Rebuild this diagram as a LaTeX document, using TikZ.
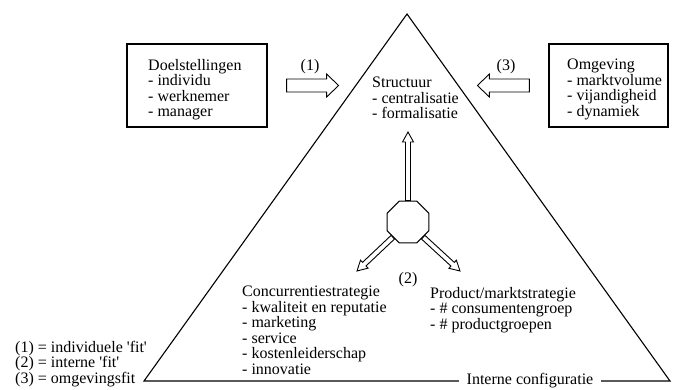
\documentclass[tikz,border=0pt]{standalone}
\usepackage{fontspec}
\setmainfont{Liberation Serif}
\usetikzlibrary{calc,shapes.geometric}
\newcommand\hollowarrow[6][]{% [style] from, to, shaft half width, head half width, head length
  \path ($(#3)!#6!(#2)$) coordinate (hb);
  \draw[arrowline,#1] ($(#2)!#4!90:(#3)$) -- ($(hb)!#4!90:(#3)$) -- ($(hb)!#5!90:(#3)$) -- (#3)
     -- ($(hb)!#5!-90:(#3)$) -- ($(hb)!#4!-90:(#3)$) -- ($(#2)!#4!-90:(#3)$) -- cycle;}
\tikzset{
  txt/.style={font=\fontsize{16}{15.5}\selectfont, align=left, inner sep=0pt, anchor=north west},
  lbl/.style={font=\fontsize{16}{15.5}\selectfont, inner sep=0pt},
  framebox/.style={draw, line width=1.2pt, minimum width=140pt, minimum height=83pt, inner sep=0pt},
  arrowline/.style={line width=0.9pt, line join=miter},
  tri/.style={line width=1.1pt, line join=miter},
  octa/.style={draw, line width=1pt, regular polygon, regular polygon sides=8, minimum size=45.4pt, inner sep=0pt}
}
\begin{document}
\begin{tikzpicture}[x=1pt,y=-1pt]
\useasboundingbox (0,0) rectangle (680,389);
% triangle
\draw[tri] (144,381) -- (407,14) -- (670,381) -- cycle;
\node[lbl, fill=white, inner xsep=8pt, inner ysep=2pt] (intern) at (530,381) {Interne configuratie};
% boxes
\node[framebox] (doel) at (197,85.5) {};
\node[framebox, minimum width=119pt] (omg) at (608.5,85.5) {};
\node[txt] (doeltxt) at (148,59) {Doelstellingen\\- individu\\- werknemer\\- manager};
\node[txt] (omgtxt) at (567,59) {Omgeving\\- marktvolume\\- vijandigheid\\- dynamiek};
% inner texts
\node[txt] (struct) at (372,77) {Structuur\\- centralisatie\\- formalisatie};
\node[txt] (conc) at (242,286) {Concurrentiestrategie\\- kwaliteit en reputatie\\- marketing\\- service\\- kostenleiderschap\\- innovatie};
\node[txt] (prod) at (430,287) {Product/marktstrategie\\- \# consumentengroep\\- \# productgroepen};
\node[txt] (legend) at (15,341) {(1) = individuele \textquotesingle fit\textquotesingle\\(2) = interne \textquotesingle fit\textquotesingle\\(3) = omgevingsfit};
% fit labels
\node[lbl] (l1) at (310,67) {(1)};
\node[lbl] (l3) at (506,67) {(3)};
\node[lbl] (l2) at (408,280) {(2)};
% block arrows
\coordinate (a1s) at ($(doel.east)+(19,0)$);
\coordinate (a1e) at ($(a1s)+(52,0)$);
\coordinate (a3s) at ($(omg.west)+(-19,0)$);
\coordinate (a3e) at ($(a3s)+(-52,0)$);
\hollowarrow{a1s}{a1e}{6.5pt}{11.5pt}{12pt}
\hollowarrow{a3s}{a3e}{6.5pt}{11.5pt}{12pt}
% octagon and internal arrows
\node[octa] (oct) at (408,222) {};
\coordinate (up) at (408,132);
\coordinate (dl) at (357,271);
\coordinate (dr) at (460,271);
\hollowarrow{oct.north}{up}{2.5pt}{5.5pt}{10pt}
\hollowarrow{oct.225}{dl}{2.5pt}{5.5pt}{10pt}
\hollowarrow{oct.-45}{dr}{2.5pt}{5.5pt}{10pt}
\end{tikzpicture}
\end{document}
